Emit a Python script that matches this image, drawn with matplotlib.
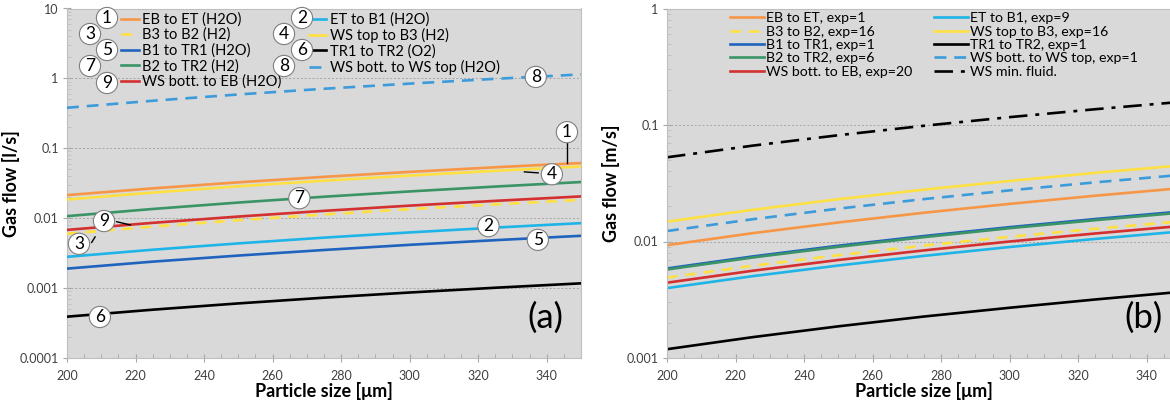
import matplotlib
matplotlib.use("Agg")
import matplotlib.pyplot as plt
from matplotlib.ticker import LogLocator, NullFormatter, MultipleLocator, FixedLocator

plt.rcParams['font.family'] = ['Lato', 'DejaVu Sans']

# ---------------- data ----------------
particle_size = [200, 225, 250, 275, 300, 325, 350]

# panel (a) gas flow [l/s]
a_eb_et   = [0.0214, 0.02673, 0.0326, 0.03906, 0.0460, 0.05356, 0.0616]
a_et_b1   = [0.0028, 0.00354, 0.00436, 0.00527, 0.00626, 0.00734, 0.0085]
a_b3_b2   = [0.0060, 0.00759, 0.00936, 0.01132, 0.01346, 0.01579, 0.0183]
a_ws_b3   = [0.0185, 0.02327, 0.0286, 0.03439, 0.0407, 0.04761, 0.0550]
a_b1_tr1  = [0.0019, 0.00239, 0.00292, 0.00351, 0.00416, 0.00485, 0.0056]
a_tr1_tr2 = [0.00039, 0.000491, 0.000604, 0.000729, 0.000865, 0.001012, 0.00117]
a_b2_tr2  = [0.0107, 0.01355, 0.01675, 0.02028, 0.02415, 0.02836, 0.0329]
a_wsb_wst = [0.38, 0.479, 0.589, 0.711, 0.842, 0.986, 1.14]
a_wsb_eb  = [0.0068, 0.00858, 0.01056, 0.01274, 0.01513, 0.01771, 0.0205]

# panel (b) gas flow [m/s]
b_eb_et   = [0.0093, 0.01179, 0.01457, 0.01766, 0.02104, 0.02472, 0.0287]
b_et_b1   = [0.00398, 0.00504, 0.00622, 0.00753, 0.00897, 0.01052, 0.0122]
b_b3_b2   = [0.0049, 0.00619, 0.00763, 0.00923, 0.01097, 0.01286, 0.0149]
b_ws_b3   = [0.0148, 0.0187, 0.02306, 0.02787, 0.0331, 0.03884, 0.0450]
b_b1_tr1  = [0.00587, 0.00744, 0.0092, 0.01114, 0.01328, 0.01559, 0.0181]
b_tr1_tr2 = [0.00119, 0.00151, 0.00187, 0.00227, 0.0027, 0.00318, 0.0037]
b_b2_tr2  = [0.00575, 0.00729, 0.0090, 0.0109, 0.01301, 0.01525, 0.0177]
b_wsb_wst = [0.0123, 0.01553, 0.01914, 0.02312, 0.02748, 0.03219, 0.0373]
b_wsb_eb  = [0.00443, 0.00561, 0.00694, 0.00839, 0.0100, 0.01172, 0.0136]
b_ws_min  = [0.0528, 0.0665, 0.0817, 0.0985, 0.1168, 0.1366, 0.158]

labels_a = ["EB to ET (H2O)", "ET to B1 (H2O)", "B3 to B2 (H2)", "WS top to B3 (H2)",
            "B1 to TR1 (H2O)", "TR1 to TR2 (O2)", "B2 to TR2 (H2)",
            "WS bott. to WS top (H2O)", "WS bott. to EB (H2O)"]
labels_b = ["EB to ET, exp=1", "ET to B1, exp=9", "B3 to B2, exp=16", "WS top to B3, exp=16",
            "B1 to TR1, exp=1", "TR1 to TR2, exp=1", "B2 to TR2, exp=6",
            "WS bott. to WS top, exp=1", "WS bott. to EB, exp=20", "WS min. fluid."]

C_OR = "#F79646"
C_LB = "#1FB4E8"
C_YE = "#FFE043"
C_BL = "#1F63BE"
C_BK = "#000000"
C_GR = "#3A9466"
C_DB = "#3C9BDB"
C_RD = "#D3302F"

styles = [
    (C_OR, '-'), (C_LB, '-'), (C_YE, (0, (4, 3))), (C_YE, '-'),
    (C_BL, '-'), (C_BK, '-'), (C_GR, '-'), (C_DB, (0, (4.5, 3))), (C_RD, '-'),
]

fig = plt.figure(figsize=(11.70, 4.08), dpi=100)
W, H = 1170.0, 408.0
ax_l, ax_b, ax_w, ax_h = 67, 358, 514, 349.5
axA = fig.add_axes([ax_l / W, 1 - ax_b / H, ax_w / W, ax_h / H])
axB = fig.add_axes([667 / W, 1 - ax_b / H, ax_w / W, ax_h / H])

BG = "#D9D9D9"
LW = 1.9


def style_axes(ax, ylim, ylabel):
    ax.set_facecolor(BG)
    ax.set_yscale('log')
    ax.set_xlim(200, 350)
    ax.set_ylim(*ylim)
    ax.xaxis.set_major_locator(FixedLocator([200, 220, 240, 260, 280, 300, 320, 340]))
    ax.xaxis.set_minor_locator(MultipleLocator(5))
    ax.yaxis.set_major_locator(LogLocator(base=10, numticks=20))
    ax.yaxis.set_minor_locator(LogLocator(base=10, subs=range(2, 10), numticks=20))
    ax.yaxis.set_minor_formatter(NullFormatter())
    ax.yaxis.set_major_formatter(plt.FuncFormatter(lambda v, p: ('%g' % v)))
    ax.grid(True, which='major', axis='y', color='#A6A6A6', linestyle=(0, (2, 2)), linewidth=0.7)
    ax.tick_params(axis='both', which='major', labelsize=9, labelcolor='#404040', color='#A6A6A6')
    ax.tick_params(axis='x', which='major', direction='inout', length=6, pad=6)
    ax.tick_params(axis='x', which='minor', direction='in', length=3, color='#A6A6A6')
    ax.tick_params(axis='y', which='major', direction='inout', length=6, pad=3)
    ax.tick_params(axis='y', which='minor', direction='in', length=3, color='#BFBFBF')
    for s in ax.spines.values():
        s.set_color('#BFBFBF')
        s.set_linewidth(0.8)
    ax.set_xlabel("Particle size [\u03bcm]", fontsize=13, fontweight='bold', labelpad=0)
    ax.set_ylabel(ylabel, fontsize=13, fontweight='bold')
    ax.yaxis.set_label_coords(-0.092, 0.5)


style_axes(axA, (0.0001, 10), "Gas flow [l/s]")
style_axes(axB, (0.001, 1), "Gas flow [m/s]")

# ---- panel (a)
series_a = [a_eb_et, a_et_b1, a_b3_b2, a_ws_b3, a_b1_tr1, a_tr1_tr2, a_b2_tr2, a_wsb_wst, a_wsb_eb]
z_a = [9, 3, 4, 8, 3, 3, 5, 3, 4]
handles_a = []
for ys, (c, ls), lab, z in zip(series_a, styles, labels_a, z_a):
    ln, = axA.plot(particle_size, ys, color=c, linestyle=ls, linewidth=LW, label=lab, zorder=z)
    handles_a.append(ln)

order = [0, 2, 4, 6, 8, 1, 3, 5, 7]
legA = axA.legend([handles_a[i] for i in order], [labels_a[i] for i in order], ncol=2,
                  loc='upper left', bbox_to_anchor=((133 - 67) / ax_w - 0.04, 1.014),
                  frameon=False, fontsize=10.5, handlelength=1.2, handletextpad=0.22,
                  columnspacing=1.9, labelspacing=0.08, borderaxespad=0.2)

def circ(ax, x, y, s, tr=None):
    ax.text(x, y, s, transform=tr if tr is not None else ax.transData,
            ha='center', va='center', fontsize=12.5, zorder=20,
            bbox=dict(boxstyle='circle,pad=0.15', fc='white', ec='#7F7F7F', lw=0.8))

def px2ax(px, py):
    return ((px - ax_l) / ax_w, (ax_b - py) / ax_h)

# legend circles
for (px, py, s) in [(107, 18, '1'), (90, 34, '3'), (107, 50, '5'), (90, 66, '7'), (107, 83, '9'),
                    (302, 18, '2'), (284, 34, '4'), (302, 50, '6'), (284, 66, '8')]:
    x, y = px2ax(px, py)
    circ(axA, x, y, s, axA.transAxes)

# in-plot circles with leader lines
axA.plot([345.9, 345.9], [0.125, 0.0616], color='black', lw=1.0, zorder=15)
circ(axA, 345.9, 0.17, '1')
circ(axA, 336.8, 1.05, '8')
axA.plot([333.5, 337.5], [0.046, 0.0445], color='black', lw=1.0, zorder=15)
circ(axA, 341.5, 0.0425, '4')
circ(axA, 267.8, 0.0193, '7')
circ(axA, 323.0, 0.0077, '2')
circ(axA, 337.4, 0.0049, '5')
circ(axA, 209.6, 0.000386, '6')
axA.plot([214.5, 218.5], [0.0089, 0.0080], color='black', lw=1.0, zorder=15)
circ(axA, 210.8, 0.0091, '9')
axA.plot([207.2, 208.2], [0.0045, 0.0054], color='black', lw=1.0, zorder=15)
circ(axA, 203.5, 0.0043, '3')
axA.text(0.965, 0.07, "(a)", transform=axA.transAxes, ha='right', va='bottom', fontsize=25)

# ---- panel (b)
series_b = [b_eb_et, b_et_b1, b_b3_b2, b_ws_b3, b_b1_tr1, b_tr1_tr2, b_b2_tr2, b_wsb_wst, b_wsb_eb]
handles_b = []
for ys, (c, ls), lab in zip(series_b, styles, labels_b):
    ln, = axB.plot(particle_size, ys, color=c, linestyle=ls, linewidth=LW, label=lab)
    handles_b.append(ln)
ln, = axB.plot(particle_size, b_ws_min, color='black', linestyle=(0, (7, 3, 1.5, 3)),
               linewidth=LW, label=labels_b[9])
handles_b.append(ln)
order_b = [0, 2, 4, 6, 8, 1, 3, 5, 7, 9]
legB = axB.legend([handles_b[i] for i in order_b], [labels_b[i] for i in order_b], ncol=2,
                  loc='upper left', bbox_to_anchor=((728 - 667) / ax_w - 0.012, 1.014),
                  frameon=False, fontsize=10.2, handlelength=2.4, handletextpad=0.15,
                  columnspacing=1.5, labelspacing=0.1, borderaxespad=0.2)
axB.text(0.965, 0.07, "(b)", transform=axB.transAxes, ha='right', va='bottom', fontsize=25)

fig.savefig("out.png", dpi=100)
